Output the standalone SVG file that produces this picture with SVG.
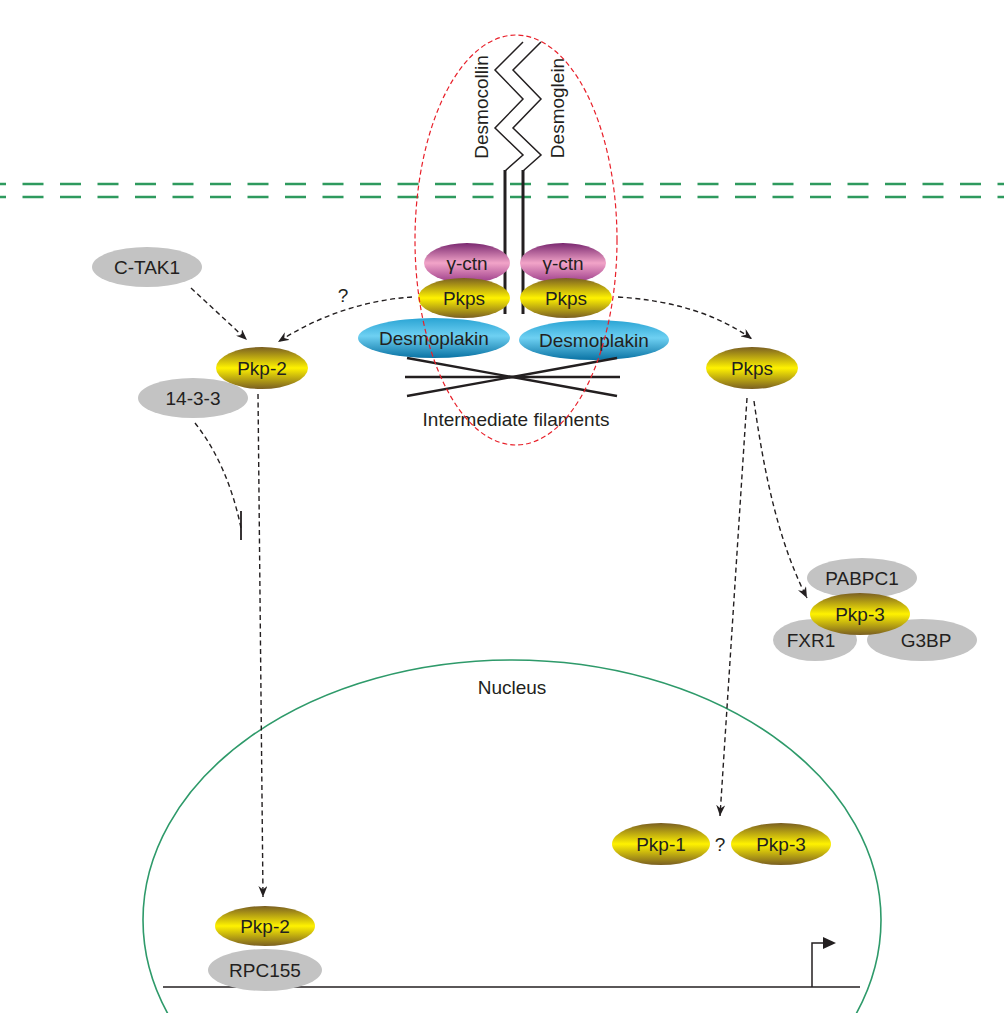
<svg xmlns="http://www.w3.org/2000/svg" width="1004" height="1013" viewBox="0 0 1004 1013">
  <defs>
    <linearGradient id="gYellow" x1="0" y1="0" x2="0" y2="1">
      <stop offset="0" stop-color="#7a5f22"/>
      <stop offset="0.5" stop-color="#fff200"/>
      <stop offset="1" stop-color="#7a5f22"/>
    </linearGradient>
    <linearGradient id="gMagenta" x1="0" y1="0" x2="0" y2="1">
      <stop offset="0" stop-color="#7a2870"/>
      <stop offset="0.5" stop-color="#f2a4c8"/>
      <stop offset="1" stop-color="#9a3a88"/>
    </linearGradient>
    <linearGradient id="gBlue" x1="0" y1="0" x2="0" y2="1">
      <stop offset="0" stop-color="#2aa4d4"/>
      <stop offset="0.45" stop-color="#6ed0f2"/>
      <stop offset="1" stop-color="#0a73a4"/>
    </linearGradient>
    <marker id="arrow" viewBox="0 0 11 9" refX="11" refY="4.5" markerWidth="11" markerHeight="9" markerUnits="userSpaceOnUse" orient="auto">
      <path d="M0,0 L11,4.5 L0,9 L3.5,4.5 z" fill="#231f20"/>
    </marker>
  </defs>
  <style>
    text { font-family: "Liberation Sans", Arial, sans-serif; font-size: 19px; fill: #231f20; text-anchor: middle; }
    .yellow { fill: url(#gYellow); }
    .magenta { fill: url(#gMagenta); }
    .blue { fill: url(#gBlue); }
    .gray { fill: #c3c3c3; }
    .conn { fill: none; stroke: #231f20; stroke-width: 1.4; stroke-dasharray: 5 3.5; }
    .solid { fill: none; stroke: #231f20; }
    .membrane { fill: none; stroke: #2e9a5e; stroke-width: 2.6; stroke-dasharray: 21 16.5; }
  </style>

  <!-- plasma membrane -->
  <g id="membrane">
    <line class="membrane" x1="-15" y1="184" x2="1004" y2="184"/>
    <line class="membrane" x1="-15" y1="197" x2="1004" y2="197"/>
  </g>

  <!-- nucleus envelope and DNA -->
  <g id="nucleus">
    <ellipse cx="512" cy="920" rx="369" ry="260" fill="none" stroke="#2e9a6a" stroke-width="1.6"/>
    <text x="512" y="694">Nucleus</text>
  </g>
  <g id="dna">
    <line class="solid" x1="163" y1="987" x2="860" y2="987" stroke-width="1.5"/>
    <polyline class="solid" points="812,987 812,943 825,943" stroke-width="1.5"/>
    <path d="M823,937 L836,943 L823,949 z" fill="#231f20"/>
  </g>

  <!-- desmosomal cadherins -->
  <g id="cadherins">
    <polyline class="solid" stroke-width="1.5" points="523,42 495,70 523,99 495,128 523,155 505,171"/>
    <polyline class="solid" stroke-width="1.5" points="541,42 513,70 541,99 513,128 541,155 523,171"/>
    <line class="solid" stroke-width="3" x1="505" y1="170" x2="505" y2="314"/>
    <line class="solid" stroke-width="3" x1="523" y1="170" x2="523" y2="314"/>
    <text transform="translate(488,107) rotate(-90)">Desmocollin</text>
    <text transform="translate(564,108) rotate(-90)">Desmoglein</text>
  </g>

  <!-- plaque proteins -->
  <g id="gctn-left">
    <ellipse class="magenta" cx="467" cy="263" rx="43" ry="20"/>
    <text x="467" y="270">γ-ctn</text>
  </g>
  <g id="gctn-right">
    <ellipse class="magenta" cx="563" cy="263" rx="43" ry="20"/>
    <text x="563" y="270">γ-ctn</text>
  </g>
  <g id="pkps-left">
    <ellipse class="yellow" cx="464" cy="298" rx="46" ry="20"/>
    <text x="464" y="305">Pkps</text>
  </g>
  <g id="pkps-right">
    <ellipse class="yellow" cx="566" cy="298" rx="46" ry="20"/>
    <text x="566" y="305">Pkps</text>
  </g>
  <g id="dp-left">
    <ellipse class="blue" cx="434" cy="338" rx="76" ry="20"/>
    <text x="434" y="345">Desmoplakin</text>
  </g>
  <g id="dp-right">
    <ellipse class="blue" cx="594" cy="340" rx="75" ry="20"/>
    <text x="594" y="347">Desmoplakin</text>
  </g>

  <!-- intermediate filaments -->
  <g id="filaments">
    <line class="solid" stroke-width="2.4" x1="407" y1="358" x2="617" y2="396"/>
    <line class="solid" stroke-width="2.4" x1="407" y1="396" x2="617" y2="358"/>
    <line class="solid" stroke-width="2.4" x1="405" y1="377" x2="620" y2="377"/>
    <text x="516" y="426">Intermediate filaments</text>
  </g>

  <!-- desmosome outline -->
  <g id="desmosome">
    <ellipse cx="516" cy="240" rx="101" ry="205" fill="none" stroke="#e8202a" stroke-width="1.2" stroke-dasharray="5 3"/>
  </g>

  <!-- cytoplasmic partners, left -->
  <g id="ctak1">
    <ellipse class="gray" cx="147" cy="267" rx="55" ry="20"/>
    <text x="147" y="274">C-TAK1</text>
  </g>
  <g id="p1433">
    <ellipse class="gray" cx="193" cy="398" rx="55" ry="20"/>
    <text x="193" y="405">14-3-3</text>
  </g>
  <g id="pkp2-cyto">
    <ellipse class="yellow" cx="262" cy="368" rx="46" ry="21"/>
    <text x="262" y="375">Pkp-2</text>
  </g>
  <text x="343" y="302">?</text>

  <!-- cytoplasmic partners, right -->
  <g id="pkps-cyto">
    <ellipse class="yellow" cx="752" cy="368" rx="46" ry="21"/>
    <text x="752" y="375">Pkps</text>
  </g>
  <g id="pabpc1">
    <ellipse class="gray" cx="862" cy="578" rx="55" ry="20"/>
    <text x="862" y="585">PABPC1</text>
  </g>
  <g id="fxr1">
    <ellipse class="gray" cx="815" cy="640" rx="42" ry="21"/>
    <text x="811" y="647">FXR1</text>
  </g>
  <g id="g3bp">
    <ellipse class="gray" cx="922" cy="640" rx="55" ry="21"/>
    <text x="926" y="647">G3BP</text>
  </g>
  <g id="pkp3-cyto">
    <ellipse class="yellow" cx="860" cy="614" rx="50" ry="21"/>
    <text x="860" y="621">Pkp-3</text>
  </g>

  <!-- nuclear plakophilins -->
  <g id="pkp1-nuc">
    <ellipse class="yellow" cx="661" cy="844" rx="49" ry="21"/>
    <text x="661" y="851">Pkp-1</text>
  </g>
  <text x="720" y="851">?</text>
  <g id="pkp3-nuc">
    <ellipse class="yellow" cx="781" cy="844" rx="50" ry="21"/>
    <text x="781" y="851">Pkp-3</text>
  </g>
  <g id="rpc155">
    <ellipse class="gray" cx="265" cy="970" rx="57" ry="21"/>
    <text x="265" y="977">RPC155</text>
  </g>
  <g id="pkp2-nuc">
    <ellipse class="yellow" cx="265" cy="926" rx="50" ry="20"/>
    <text x="265" y="933">Pkp-2</text>
  </g>

  <!-- connectors -->
  <g id="connectors">
    <path class="conn" d="M412,297 Q340,302 278,342" marker-end="url(#arrow)"/>
    <path class="conn" d="M618,297 Q700,302 752,339" marker-end="url(#arrow)"/>
    <path class="conn" d="M191,288 L247,340" marker-end="url(#arrow)"/>
    <path class="conn" d="M258,394 L263,897" marker-end="url(#arrow)"/>
    <path class="conn" d="M195,423 Q228,465 241,528"/>
    <line class="solid" stroke-width="1.8" x1="241" y1="511" x2="241" y2="540"/>
    <path class="conn" d="M747,398 L720,816" marker-end="url(#arrow)"/>
    <path class="conn" d="M754,401 C765,480 780,545 807,598" marker-end="url(#arrow)"/>
  </g>
</svg>
